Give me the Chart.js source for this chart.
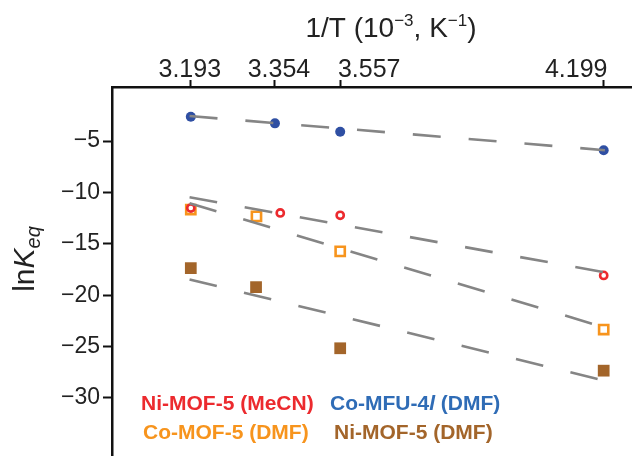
<!DOCTYPE html>
<html>
<head>
<meta charset="utf-8">
<script src="https://cdn.jsdelivr.net/npm/chart.js@4/dist/chart.umd.min.js"></script>
<style>
  html, body { margin: 0; padding: 0; background: #fff; }
  #wrap { width: 632px; height: 456px; overflow: hidden; position: relative; }
  canvas { display: block; }
</style>
</head>
<body>
<div id="wrap"><canvas id="c" width="670" height="490"></canvas></div>
<script>
// =========================
// DATA
// =========================
// tick marks sit where the picture puts them; labels as printed
const xTickPos = [3.193, 3.398, 3.557, 4.199];
const xTickLabels = ['3.193', '3.354', '3.557', '4.199'];
const yTicks = [-5, -10, -15, -20, -25, -30];

const seriesNames = ['Ni-MOF-5 (MeCN)', 'Co-MFU-4', 'Co-MOF-5 (DMF)', 'Ni-MOF-5 (DMF)'];

// Ni-MOF-5 (MeCN)
const niMeCNx = [3.193, 3.411, 3.557, 4.199];
const niMeCNy = [-11.51, -11.99, -12.22, -18.07];
// Co-MFU-4l (DMF)
const coMFUx = [3.193, 3.398, 3.557, 4.199];
const coMFUy = [-2.63, -3.27, -4.09, -5.88];
// Co-MOF-5 (DMF)
const coMOFx = [3.193, 3.353, 3.557, 4.199];
const coMOFy = [-11.66, -12.32, -15.73, -23.34];
// Ni-MOF-5 (DMF)
const niDMFx = [3.193, 3.352, 3.557, 4.199];
const niDMFy = [-17.36, -19.21, -25.16, -27.34];

// linear fits (end points)
const fitX = [3.190, 4.202];
const niMeCNfit = [-10.46, -17.78];
const coMFUfit = [-2.56, -5.88];
const coMOFfit = [-11.05, -23.14];
const niDMFfit = [-18.46, -28.32];

// =========================
// DESIGN
// =========================
const colors = {
  red: '#ec2a2e',
  blue: '#2f4fa3',
  blueText: '#2f6cb6',
  orange: '#f7941d',
  brown: '#a3652a',
  fit: '#858585',
};
const FONT = "'Liberation Sans', Arial, Helvetica, sans-serif";
// the printed labels are nudged sideways off their tick marks
const xLabelShift = [-1, 4, 29, -27.5];

const pts = (xs, ys) => xs.map((x, i) => ({ x, y: ys[i] }));

function fitDataset(ys) {
  return {
    data: pts(fitX, ys),
    showLine: true,
    borderColor: colors.fit,
    borderWidth: 2.6,
    borderDash: [28, 28],
    pointRadius: 0,
    fill: false,
  };
}

function markerDataset(label, xs, ys, style, color, filled, radius, bw) {
  return {
    label,
    data: pts(xs, ys),
    showLine: false,
    pointStyle: style,
    pointRadius: radius,
    pointBorderWidth: bw,
    pointBorderColor: color,
    pointBackgroundColor: filled ? color : '#ffffff',
  };
}

// =========================
// TEXT PLUGIN (tick labels, titles, legend)
// =========================
function drawRuns(ctx, runs, x, y) {
  let cx = x;
  runs.forEach((r) => {
    ctx.font = r.font;
    ctx.fillStyle = r.color || '#222';
    ctx.fillText(r.text, cx, y + (r.dy || 0));
    cx += ctx.measureText(r.text).width;
  });
}
function runsWidth(ctx, runs) {
  return runs.reduce((w, r) => { ctx.font = r.font; return w + ctx.measureText(r.text).width; }, 0);
}

const textPlugin = {
  id: 'texts',
  afterDraw(chart) {
    const ctx = chart.ctx;
    const xs = chart.scales.x;
    ctx.save();

    // top tick labels
    ctx.font = `25px ${FONT}`;
    ctx.fillStyle = '#222';
    ctx.textAlign = 'center';
    ctx.textBaseline = 'alphabetic';
    xTickPos.forEach((v, i) => {
      ctx.fillText(xTickLabels[i], xs.getPixelForValue(v) + xLabelShift[i], 77);
    });

    ctx.textAlign = 'left';
    // top axis title
    const big = `28px ${FONT}`;
    const sup = `17px ${FONT}`;
    const xTitle = [
      { text: '1/T (10', font: big },
      { text: '\u22123', font: sup, dy: -11 },
      { text: ', K', font: big },
      { text: '\u22121', font: sup, dy: -11 },
      { text: ')', font: big },
    ];
    const w = runsWidth(ctx, xTitle);
    drawRuns(ctx, xTitle, 391 - w / 2, 37);

    // left axis title, rotated
    ctx.save();
    ctx.translate(34, 259);
    ctx.rotate(-Math.PI / 2);
    const yTitle = [
      { text: 'ln', font: `30px ${FONT}` },
      { text: 'K', font: `italic 30px ${FONT}` },
      { text: 'eq', font: `italic 20px ${FONT}`, dy: 6 },
    ];
    const wy = runsWidth(ctx, yTitle);
    drawRuns(ctx, yTitle, -wy / 2, 0);
    ctx.restore();

    // legend
    const lf = `bold 21px ${FONT}`;
    const lfi = `bold italic 21px ${FONT}`;
    ctx.textBaseline = 'middle';
    drawRuns(ctx, [{ text: seriesNames[0], font: lf, color: colors.red }], 141, 404);
    drawRuns(ctx, [
      { text: seriesNames[1], font: lf, color: colors.blueText },
      { text: 'l', font: lfi, color: colors.blueText },
      { text: ' (DMF)', font: lf, color: colors.blueText },
    ], 330, 404);
    drawRuns(ctx, [{ text: seriesNames[2], font: lf, color: colors.orange }], 143, 433);
    drawRuns(ctx, [{ text: seriesNames[3], font: lf, color: colors.brown }], 334, 433);
    ctx.restore();
  },
};

// =========================
// CHART
// =========================
new Chart(document.getElementById('c'), {
  type: 'scatter',
  data: {
    datasets: [
      fitDataset(coMFUfit),
      fitDataset(niMeCNfit),
      fitDataset(coMOFfit),
      fitDataset(niDMFfit),
      markerDataset(seriesNames[0], niMeCNx, niMeCNy, 'circle', colors.red, false, 3.6, 2.6),
      markerDataset(seriesNames[1], coMFUx, coMFUy, 'circle', colors.blue, true, 5, 0),
      markerDataset(seriesNames[2], coMOFx, coMOFy, 'rect', colors.orange, false, 6.5, 2.6),
      markerDataset(seriesNames[3], niDMFx, niDMFy, 'rect', colors.brown, true, 8.3, 0),
    ],
  },
  options: {
    responsive: false,
    animation: false,
    devicePixelRatio: 1,
    layout: { padding: 0 },
    plugins: {
      legend: { display: false },
      tooltip: { enabled: false },
    },
    scales: {
      x: {
        type: 'linear',
        position: 'top',
        min: 3.001,
        max: 4.3384,
        afterFit: (s) => {
          s.height = 87;
          s.paddingLeft = 0;
          s.paddingRight = 0;
        },
        afterBuildTicks: (s) => { s.ticks = xTickPos.map((v) => ({ value: v })); },
        ticks: { display: false, autoSkip: false },
        grid: {
          drawOnChartArea: false,
          drawTicks: true,
          tickLength: 7,
          tickWidth: 2,
          tickColor: '#111',
        },
        border: { display: true, color: '#111', width: 2.5 },
      },
      y: {
        type: 'linear',
        position: 'left',
        min: -38.07,
        max: 0.27,
        afterFit: (s) => {
          s.width = 112;
          s.paddingTop = 0;
          s.paddingBottom = 0;
        },
        afterBuildTicks: (s) => { s.ticks = yTicks.map((v) => ({ value: v })); },
        ticks: {
          autoSkip: false,
          padding: 3,
          color: '#222',
          font: { family: FONT, size: 23 },
          callback: (v) => '\u2212' + Math.abs(v),
        },
        grid: {
          drawOnChartArea: false,
          drawTicks: true,
          tickLength: 9,
          tickWidth: 2,
          tickColor: '#111',
        },
        border: { display: true, color: '#111', width: 2.5 },
      },
    },
  },
  plugins: [textPlugin],
});
</script>
</body>
</html>
